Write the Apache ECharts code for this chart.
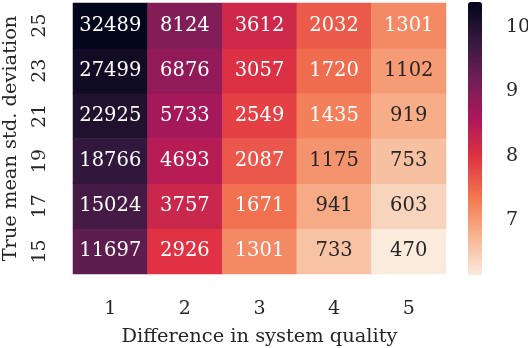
<!DOCTYPE html>
<html>
<head>
<meta charset="utf-8">
<script src="https://cdn.jsdelivr.net/npm/echarts@6/dist/echarts.min.js"></script>
<style>
    html, body { margin: 0; padding: 0; background: #fff; }
    #chart { width: 528px; height: 348px; }
</style>
</head>
<body>
<div id="chart"></div>
<script>
// x categories: difference in system quality
const qualityDiffs = ['1', '2', '3', '4', '5'];
// y categories: true mean std. deviation (bottom to top)
const stdDevs = ['15', '17', '19', '21', '23', '25'];
// required sample sizes, one row per std. deviation (same order as stdDevs)
const row15 = [11697, 2926, 1301, 733, 470];
const row17 = [15024, 3757, 1671, 941, 603];
const row19 = [18766, 4693, 2087, 1175, 753];
const row21 = [22925, 5733, 2549, 1435, 919];
const row23 = [27499, 6876, 3057, 1720, 1102];
const row25 = [32489, 8124, 3612, 2032, 1301];
const sampleRows = [row15, row17, row19, row21, row23, row25];
// colour bar ticks (natural log of the sample size)
const colorbarTicks = [7, 8, 9, 10];

// rocket colormap, reversed (light = small, dark = large)
const rocketR = ['#faebdd', '#f6b48f', '#f37651', '#e13342', '#ad1759', '#701f57', '#35193e', '#03051a'];

const font = 'DejaVu Serif';
const textDark = '#262626';

const data = [];
let lnMin = Infinity, lnMax = -Infinity;
sampleRows.forEach((row, y) => {
    row.forEach((v, x) => {
        const ln = Math.log(v);
        lnMin = Math.min(lnMin, ln);
        lnMax = Math.max(lnMax, ln);
        data.push({
            value: [x, y, v, ln],
            label: { color: ln > 7.12 ? '#ffffff' : textDark }
        });
    });
});

const chart = echarts.init(document.getElementById('chart'));
chart.setOption({
    animation: false,
    textStyle: { fontFamily: font },
    grid: [
        { left: 73, top: 3, width: 373, height: 271, outerBoundsMode: 'none', containLabel: false },
        { left: 468, top: 2, width: 14, height: 273, outerBoundsMode: 'none', containLabel: false }
    ],
    xAxis: [
        {
            type: 'category',
            gridIndex: 0,
            data: qualityDiffs,
            axisLine: { show: false },
            axisTick: { show: false },
            splitArea: { show: false },
            axisLabel: { fontSize: 19, color: textDark, margin: 26, fontFamily: font },
            name: 'Difference in system quality',
            nameLocation: 'middle',
            nameGap: 53,
            nameTextStyle: { fontSize: 19.4, color: textDark, fontFamily: font }
        },
        { type: 'value', gridIndex: 1, show: false, min: 0, max: 1 }
    ],
    yAxis: [
        {
            type: 'category',
            gridIndex: 0,
            data: stdDevs,
            axisLine: { show: false },
            axisTick: { show: false },
            splitArea: { show: false },
            axisLabel: { fontSize: 19, color: textDark, margin: 23, rotate: 90, fontFamily: font },
            name: 'True mean std. deviation',
            nameLocation: 'middle',
            nameGap: 53,
            nameTextStyle: { fontSize: 19.4, color: textDark, fontFamily: font }
        },
        {
            type: 'value',
            gridIndex: 1,
            position: 'right',
            min: lnMin,
            max: lnMax,
            splitLine: { show: false },
            axisLine: { show: false },
            axisTick: {
                show: true,
                length: 5,
                customValues: colorbarTicks,
                lineStyle: { color: '#333', width: 1.3 }
            },
            axisLabel: {
                customValues: colorbarTicks,
                fontSize: 19,
                color: textDark,
                margin: 24,
                fontFamily: font
            }
        }
    ],
    visualMap: {
        type: 'continuous',
        min: lnMin,
        max: lnMax,
        dimension: 3,
        seriesIndex: 0,
        calculable: false,
        hoverLink: false,
        orient: 'vertical',
        left: 468,
        top: 2,
        padding: 0,
        itemWidth: 14,
        itemHeight: 273,
        inRange: { color: rocketR }
    },
    series: [
        {
            type: 'heatmap',
            xAxisIndex: 0,
            yAxisIndex: 0,
            data: data,
            itemStyle: { borderWidth: 0 },
            label: {
                show: true,
                fontSize: 19.5,
                fontFamily: font,
                formatter: p => String(p.value[2])
            },
            emphasis: { disabled: true }
        }
    ]
});
</script>
</body>
</html>
